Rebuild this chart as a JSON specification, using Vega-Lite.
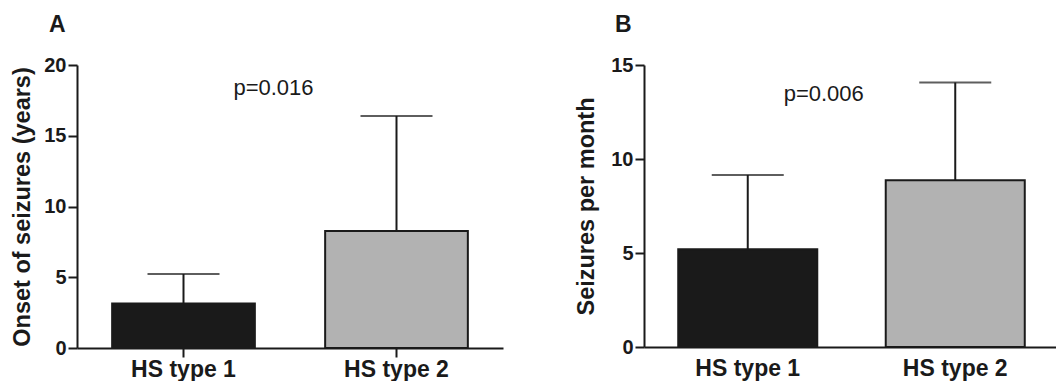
{
  "$schema": "https://vega.github.io/schema/vega-lite/v6.json",
  "padding": {"left": 10, "top": 14, "right": 0, "bottom": 0},
  "spacing": 71,
  "background": "white",
  "config": {
    "font": "Liberation Sans",
    "view": {"stroke": null},
    "axis": {
      "grid": false,
      "domainColor": "#1a1a1a",
      "domainWidth": 2,
      "tickColor": "#1a1a1a",
      "tickWidth": 2,
      "tickSize": 9,
      "labelColor": "#1a1a1a",
      "labelFontSize": 20,
      "labelFontWeight": "bold",
      "titleColor": "#1a1a1a",
      "titleFontSize": 23.5,
      "titleFontWeight": "bold"
    },
    "axisX": {"labelAngle": 0, "labelFontSize": 23, "labelPadding": 1, "title": null},
    "axisY": {"labelPadding": 2, "titlePadding": 9},
    "title": {"fontSize": 23, "fontWeight": "bold", "color": "#1a1a1a", "anchor": "start", "frame": "group"}
  },
  "datasets": {
    "onset": [
      {"group": "HS type 1", "mean": 3.15, "upper": 5.23},
      {"group": "HS type 2", "mean": 8.27, "upper": 16.4}
    ],
    "freq": [
      {"group": "HS type 1", "mean": 5.2, "upper": 9.15},
      {"group": "HS type 2", "mean": 8.87, "upper": 14.07}
    ],
    "pA": [{"label": "p=0.016", "y": 17.9}],
    "pB": [{"label": "p=0.006", "y": 13.1}]
  },
  "resolve": {"scale": {"x": "independent", "y": "independent", "color": "independent"}},
  "hconcat": [
    {
      "width": 426,
      "height": 283,
      "title": {"text": "A", "dx": -28, "offset": 18},
      "layer": [
        {
          "data": {"name": "onset"},
          "mark": {"type": "bar", "stroke": "#1a1a1a", "strokeWidth": 2},
          "encoding": {
            "x": {"field": "group", "type": "nominal", "sort": null, "scale": {"paddingInner": 0.33, "paddingOuter": 0.165}},
            "y": {"field": "mean", "type": "quantitative", "scale": {"domain": [0, 20], "nice": false}, "axis": {"title": "Onset of seizures (years)", "values": [0, 5, 10, 15, 20]}},
            "color": {"field": "group", "type": "nominal", "scale": {"domain": ["HS type 1", "HS type 2"], "range": ["#1a1a1a", "#b2b2b2"]}, "legend": null}
          }
        },
        {
          "data": {"name": "onset"},
          "mark": {"type": "rule", "strokeWidth": 2, "color": "#1a1a1a"},
          "encoding": {
            "x": {"field": "group", "type": "nominal", "sort": null},
            "y": {"field": "mean", "type": "quantitative", "title": "Onset of seizures (years)"},
            "y2": {"field": "upper"}
          }
        },
        {
          "data": {"name": "onset"},
          "mark": {"type": "tick", "size": 72, "thickness": 2, "color": "#1a1a1a"},
          "encoding": {
            "x": {"field": "group", "type": "nominal", "sort": null},
            "y": {"field": "upper", "type": "quantitative", "title": "Onset of seizures (years)"}
          }
        },
        {
          "data": {"name": "pA"},
          "mark": {"type": "text", "dx": 90, "fontSize": 22, "align": "center", "baseline": "alphabetic", "color": "#1a1a1a"},
          "encoding": {
            "x": {"datum": "HS type 1", "type": "nominal"},
            "y": {"field": "y", "type": "quantitative", "title": "Onset of seizures (years)"},
            "text": {"field": "label"}
          }
        }
      ]
    },
    {
      "width": 415,
      "height": 282,
      "title": {"text": "B", "dx": -29, "offset": 18},
      "layer": [
        {
          "data": {"name": "freq"},
          "mark": {"type": "bar", "stroke": "#1a1a1a", "strokeWidth": 2},
          "encoding": {
            "x": {"field": "group", "type": "nominal", "sort": null, "scale": {"paddingInner": 0.33, "paddingOuter": 0.165}, "axis": {"tickColor": "transparent"}},
            "y": {"field": "mean", "type": "quantitative", "scale": {"domain": [0, 15], "nice": false}, "axis": {"title": "Seizures per month", "values": [0, 5, 10, 15], "titlePadding": 12}},
            "color": {"field": "group", "type": "nominal", "scale": {"domain": ["HS type 1", "HS type 2"], "range": ["#1a1a1a", "#b2b2b2"]}, "legend": null}
          }
        },
        {
          "data": {"name": "freq"},
          "mark": {"type": "rule", "strokeWidth": 2, "color": "#1a1a1a"},
          "encoding": {
            "x": {"field": "group", "type": "nominal", "sort": null},
            "y": {"field": "mean", "type": "quantitative", "title": "Seizures per month"},
            "y2": {"field": "upper"}
          }
        },
        {
          "data": {"name": "freq"},
          "mark": {"type": "tick", "size": 72, "thickness": 2, "color": "#1a1a1a"},
          "encoding": {
            "x": {"field": "group", "type": "nominal", "sort": null},
            "y": {"field": "upper", "type": "quantitative", "title": "Seizures per month"}
          }
        },
        {
          "data": {"name": "pB"},
          "mark": {"type": "text", "dx": 76, "fontSize": 22, "align": "center", "baseline": "alphabetic", "color": "#1a1a1a"},
          "encoding": {
            "x": {"datum": "HS type 1", "type": "nominal"},
            "y": {"field": "y", "type": "quantitative", "title": "Seizures per month"},
            "text": {"field": "label"}
          }
        }
      ]
    }
  ]
}
